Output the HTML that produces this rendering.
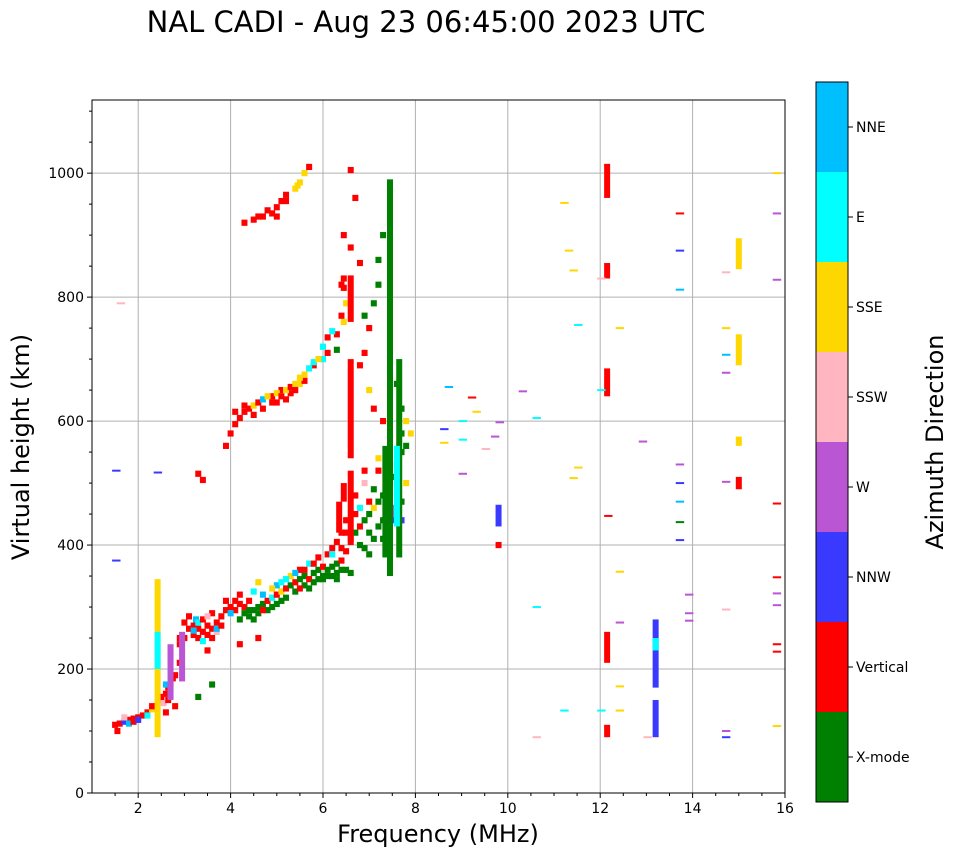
<!DOCTYPE html>
<html><head><meta charset="utf-8"><style>
body{margin:0;background:#fff;width:958px;height:857px;overflow:hidden;font-family:"DejaVu Sans",sans-serif}
</style></head><body>
<svg id="chart" width="958" height="857" xmlns="http://www.w3.org/2000/svg" font-family="DejaVu Sans, Liberation Sans, sans-serif">
<text x="426" y="32" font-size="29" text-anchor="middle">NAL CADI - Aug 23 06:45:00 2023 UTC</text>
<g id="grid"></g><g id="marks"></g><g id="axes"></g><g id="cbar"></g>
<text x="438" y="842" font-size="24" text-anchor="middle">Frequency (MHz)</text>
<text transform="translate(29,447) rotate(-90)" font-size="24" text-anchor="middle">Virtual height (km)</text>
<text transform="translate(943,442) rotate(-90)" font-size="24" text-anchor="middle">Azimuth Direction</text>
</svg>
<script>
const xTicks=[2,4,6,8,10,12,14,16];
const yTicks=[0,200,400,600,800,1000];
const dirNames=["X-mode","Vertical","NNW","W","SSW","SSE","E","NNE"];
const dirColors=["#008000","#ff0000","#3a3aff","#ba55d3","#ffb6c1","#ffd700","#00ffff","#00bfff"];
const traceLow=[[1.5,110,1],[1.55,100,1],[1.6,112,1],[1.7,115,2],[1.8,118,1],[1.9,120,1],[2.0,122,1],[2.1,125,1],[2.2,130,1],[2.3,135,5],[2.4,140,1],[2.5,150,1],[2.55,145,4],[2.6,160,1],[2.65,170,1],[2.7,175,1],[2.75,185,1],[2.8,190,1],[2.9,240,1],[3.0,275,1],[3.1,265,1],[3.2,270,1],[3.25,280,7],[3.3,265,1],[3.4,260,1],[3.5,270,1],[3.6,265,1],[3.7,275,1],[3.8,285,1],[3.9,295,1],[4.0,300,1],[4.1,295,1],[4.2,305,1],[4.3,290,0],[4.4,285,0],[4.5,295,0],[4.6,300,0],[4.7,305,0],[4.8,310,1],[4.9,315,6],[5.0,320,1],[5.1,325,5],[5.2,330,1],[5.3,335,0],[5.4,340,1],[5.5,345,0],[5.6,350,0],[5.7,345,1],[5.8,355,0],[5.9,360,0],[6.0,365,1],[6.1,360,0],[6.2,365,0],[6.3,370,0],[6.4,375,1],[6.5,390,1],[6.6,410,1],[6.7,420,0],[6.8,430,1],[6.9,440,0],[7.0,450,0],[7.1,460,5],[7.2,470,0],[7.3,480,0],[7.4,500,0],[7.5,510,0],[7.6,530,0],[7.7,550,0]];
const traceScatter=[[3.1,285,1],[3.3,275,6],[3.5,255,1],[3.6,290,1],[3.7,260,4],[3.9,310,1],[4.0,290,7],[4.2,320,1],[4.4,310,1],[4.5,325,6],[4.6,340,5],[4.7,320,7],[4.8,295,0],[5.0,335,7],[5.1,340,6],[5.2,315,0],[5.3,350,5],[5.4,325,0],[5.5,360,1],[5.6,335,0],[5.7,370,6],[5.8,340,0],[5.9,380,1],[6.0,350,0],[6.1,385,1],[6.2,395,1],[6.3,355,0],[6.4,420,1],[6.5,440,1],[6.7,480,1],[6.8,460,6],[6.9,500,4],[7.0,420,0],[7.1,490,0],[7.2,520,1],[7.3,440,0],[7.5,460,3],[7.6,480,5],[7.7,440,2],[7.8,500,5],[7.9,580,5],[7.8,560,0],[7.7,620,0],[7.6,660,0],[3.5,230,1],[4.2,240,1],[4.6,250,1],[3.3,155,0],[3.6,175,0]];
const traceDense=[[3.2,255,1],[3.3,250,1],[3.4,280,1],[3.5,285,4],[3.6,250,1],[3.7,265,7],[3.8,270,1],[3.4,245,6],[3.2,262,7],[4.1,310,1],[4.3,300,1],[4.2,280,0],[4.4,295,0],[4.5,280,0],[4.6,290,0],[4.7,295,1],[4.9,300,0],[5.0,305,0],[5.1,310,0],[4.9,330,5],[5.2,345,6],[5.4,355,7],[5.5,330,1],[5.6,360,1],[5.7,330,0],[5.8,370,1],[5.9,345,0],[6.0,345,0],[6.1,350,0],[6.2,350,0],[6.3,345,0],[6.4,360,0],[6.5,360,0],[6.6,355,0],[6.4,395,1],[6.5,420,1],[6.3,405,1],[6.2,385,6],[6.7,450,1],[6.8,400,0],[6.9,395,0],[7.0,385,0],[7.1,410,0],[7.2,430,0],[7.0,470,1],[6.9,520,1],[7.2,540,5],[7.3,410,0],[7.6,500,0],[7.7,470,0],[7.5,450,3],[7.55,440,2],[7.7,580,0],[7.8,600,5],[7.3,600,1],[7.1,620,1],[7.0,650,5],[6.8,690,1],[6.9,710,1],[7.0,750,1],[6.9,770,0],[7.1,790,0],[7.2,820,0],[7.2,860,0],[7.3,900,0],[6.8,855,1],[6.6,880,1],[6.45,900,1],[2.8,140,1],[2.7,160,4],[2.65,150,1],[2.5,155,1],[2.6,175,7],[2.9,210,1],[2.9,250,1],[3.0,250,1],[1.7,122,4],[1.8,112,7],[1.9,115,1],[2.0,118,2],[2.2,125,6],[2.3,140,1],[2.6,130,1],[4.1,615,1],[4.3,625,1],[4.5,610,1],[4.7,620,1],[4.9,640,1],[5.0,630,1],[5.1,650,1],[5.2,635,1],[5.3,645,1],[5.4,650,1],[5.5,660,5],[5.6,665,1],[5.8,690,1],[6.0,700,6],[6.1,710,1],[6.3,715,0],[6.3,740,1],[6.45,760,5],[6.45,815,1],[6.45,830,1],[4.6,930,1],[4.8,940,1],[5.0,930,1],[5.2,955,1],[5.45,980,5]];
const traceHop2=[[3.9,560,1],[4.0,580,1],[4.1,595,1],[4.2,605,1],[4.3,615,1],[4.4,620,1],[4.5,625,5],[4.6,630,1],[4.7,635,7],[4.8,640,5],[4.9,630,1],[5.0,645,5],[5.1,640,1],[5.2,650,5],[5.3,655,1],[5.4,660,5],[5.5,670,5],[5.6,675,5],[5.7,685,6],[5.8,695,6],[5.9,700,5],[6.0,720,6],[6.1,735,1],[6.2,745,6],[6.4,770,1],[6.4,820,1],[6.5,790,5],[3.3,515,1],[3.4,505,1]];
const traceHop3=[[4.3,920,1],[4.5,925,1],[4.7,930,1],[4.9,935,1],[5.0,945,1],[5.1,955,1],[5.2,965,1],[5.4,975,5],[5.5,985,5],[5.6,1000,5],[5.7,1010,1],[6.6,1005,1],[6.7,960,1]];
const bars=[[2.42,90,345,5],[2.42,200,260,6],[6.6,400,520,1],[6.6,540,700,1],[6.6,760,835,1],[7.45,350,990,0],[7.35,380,560,0],[7.65,380,700,0],[7.6,430,560,6],[12.15,90,110,1],[12.15,210,260,1],[12.15,640,685,1],[12.15,830,855,1],[12.15,960,1015,1],[13.2,90,150,2],[13.2,170,280,2],[13.2,230,250,6],[15,690,740,5],[15,845,895,5],[15,560,575,5],[15,490,510,1],[2.7,150,240,3],[2.95,180,260,3],[9.8,395,405,1],[9.8,430,465,2],[6.35,420,470,1],[6.45,470,500,1]];
const dashes=[[15.8,1000,5],[15.8,935,3],[15.8,828,3],[15.8,467,1],[15.8,348,1],[15.8,322,3],[15.8,303,3],[15.8,240,1],[15.8,228,1],[15.8,108,5],[13.7,935,1],[13.7,875,2],[13.7,812,7],[13.7,530,3],[13.7,500,2],[13.7,470,7],[13.7,437,0],[13.7,408,2],[13.9,320,3],[13.9,290,3],[13.9,278,3],[14.7,840,4],[14.7,750,5],[14.7,707,7],[14.7,678,3],[14.7,502,3],[14.7,296,4],[14.7,100,3],[14.7,90,2],[12.4,750,5],[12.4,357,5],[12.4,275,3],[12.4,172,5],[12.4,133,5],[12.9,567,3],[13.0,90,4],[11.2,952,5],[11.3,875,5],[11.4,843,5],[11.5,755,6],[11.5,525,5],[11.4,508,5],[11.2,133,6],[10.6,605,6],[10.6,300,6],[10.6,90,4],[10.3,648,3],[9.2,638,1],[9.0,570,6],[9.0,600,6],[8.7,655,7],[8.6,587,2],[8.6,565,5],[9.7,575,3],[9.8,598,3],[9.3,615,5],[9.5,555,4],[9.0,515,3],[12.0,830,4],[12.0,650,6],[12.15,447,1],[12.0,133,6],[1.5,520,2],[1.5,375,2],[2.4,517,2],[1.6,790,4]];
const NS="http://www.w3.org/2000/svg";
const X0=92,X1=785,Y0=793,Y1=100,FMIN=1,FMAX=16,HMAX=1118;
const xs=f=>X0+(f-FMIN)/(FMAX-FMIN)*(X1-X0);
const ys=h=>Y0-h/HMAX*(Y0-Y1);
function mk(tag,attrs,parent){const e=document.createElementNS(NS,tag);for(const k in attrs)e.setAttribute(k,attrs[k]);parent.appendChild(e);return e;}
const grid=document.getElementById('grid'),marks=document.getElementById('marks'),axes=document.getElementById('axes'),cb=document.getElementById('cbar');
xTicks.forEach(t=>{const x=xs(t);
 const g=mk('line',{x1:x,x2:x,y1:Y1,y2:Y0,stroke:'#b0b0b0','stroke-width':1},grid);
 mk('line',{x1:x,x2:x,y1:Y0,y2:Y0+5,stroke:'#000'},axes);
 const l=mk('text',{x:x,y:Y0+20,'font-size':14,'text-anchor':'middle'},axes);l.textContent=t;
 });
for(let f=1.5;f<16;f+=0.5){if(Number.isInteger(f)&&f%2===0)continue;mk('line',{x1:xs(f),x2:xs(f),y1:Y0,y2:Y0+3,stroke:'#000'},axes);}
yTicks.forEach(t=>{const y=ys(t);
 const g=mk('line',{x1:X0,x2:X1,y1:y,y2:y,stroke:'#b0b0b0','stroke-width':1},grid);
 mk('line',{x1:X0-5,x2:X0,y1:y,y2:y,stroke:'#000'},axes);
 const l=mk('text',{x:X0-8,y:y+5,'font-size':14,'text-anchor':'end'},axes);l.textContent=t;
 });
for(let h=50;h<HMAX;h+=50){if(h%200===0)continue;mk('line',{x1:X0-3,x2:X0,y1:ys(h),y2:ys(h),stroke:'#000'},axes);}
const frame=mk('rect',{x:X0,y:Y1,width:X1-X0,height:Y0-Y1,fill:'none',stroke:'#000'},axes);

const cw=xs(1.13)-xs(1),ch=ys(0)-ys(10);
[traceLow,traceScatter,traceDense,traceHop2,traceHop3].forEach(tr=>tr.forEach(p=>{
 const r=mk('rect',{x:xs(p[0])-cw/2,y:ys(p[1])-ch/2,width:cw,height:ch,fill:dirColors[p[2]]},marks);
 }));
bars.forEach(b=>{const r=mk('rect',{x:xs(b[0])-cw/2,y:ys(b[2]),width:cw,height:ys(b[1])-ys(b[2]),fill:dirColors[b[3]]},marks);
 });
dashes.forEach(d=>{const r=mk('rect',{x:xs(d[0])-cw/2,y:ys(d[1])-1,width:cw*1.4,height:2,fill:dirColors[d[2]]},marks);
 });
const CX=816,CW=32,CT=82,CB=802,seg=(CB-CT)/dirNames.length;
dirNames.forEach((n,i)=>{const y=CB-(i+1)*seg;
 const r=mk('rect',{x:CX,y:y,width:CW,height:seg,fill:dirColors[i]},cb);
 
 mk('line',{x1:CX+CW,x2:CX+CW+5,y1:y+seg/2,y2:y+seg/2,stroke:'#000'},cb);
 const l=mk('text',{x:CX+CW+8,y:y+seg/2+5,'font-size':14},cb);l.textContent=n;
 });
mk('rect',{x:CX,y:CT,width:CW,height:CB-CT,fill:'none',stroke:'#000'},cb);
</script>
</body></html>
